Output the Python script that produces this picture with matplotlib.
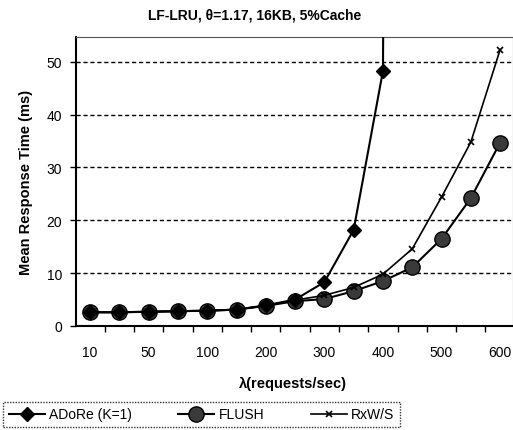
import numpy as np
import matplotlib
matplotlib.use("Agg")
import matplotlib.pyplot as plt
from matplotlib.ticker import FixedLocator

plt.rcParams['font.family'] = ['Liberation Sans', 'DejaVu Sans']

categories = [10, 25, 50, 75, 100, 150, 200, 250, 300, 350, 400, 450, 500, 550, 600]
tick_labels = ["10", "", "50", "", "100", "", "200", "", "300", "", "400", "", "500", "", "600"]
adore = [2.6, 2.6, 2.7, 2.8, 2.9, 3.1, 3.9, 5.0, 8.3, 18.2, 48.3, 1000, np.nan, np.nan, np.nan]
flush = [2.6, 2.6, 2.7, 2.8, 2.9, 3.1, 3.8, 4.7, 5.1, 6.6, 8.5, 11.1, 16.5, 24.2, 34.7]
rxws = [2.6, 2.6, 2.7, 2.8, 2.9, 3.1, 3.9, 4.9, 5.8, 7.3, 9.8, 14.6, 24.4, 34.8, 52.3]

fig = plt.figure(figsize=(5.13, 4.31), dpi=100)
ax = fig.add_axes([76/513, (431-327)/431, (513-76)/513, (327-38)/431])

x = np.arange(len(categories))
ax.plot(x, adore, color='black', lw=1.5, marker='D', ms=7, mfc='black', mec='black',
        label='ADoRe (K=1)', zorder=4)
ax.plot(x, flush, color='black', lw=1.5, marker='o', ms=11, mfc='#3a3a3a', mec='black',
        label='FLUSH', zorder=3)
ax.plot(x, rxws, color='black', lw=1.2, marker='x', ms=5, mew=1.2,
        label='RxW/S', zorder=5)

ax.set_xlim(-0.48, 14.44)
ax.set_ylim(0, 54.7)
ax.set_yticks([0, 10, 20, 30, 40, 50])
ax.yaxis.grid(True, linestyle=(0, (3, 2)), color='black', lw=1.0)
ax.set_axisbelow(True)

ax.xaxis.set_major_locator(FixedLocator(x))
ax.set_xticklabels(tick_labels)
ax.xaxis.set_minor_locator(FixedLocator(np.arange(-0.5, 15, 1.0)))
ax.tick_params(axis='x', which='major', length=0, pad=14, labelsize=10)
ax.tick_params(axis='x', which='minor', length=4, width=1, direction='out')
ax.tick_params(axis='y', length=4, width=1, labelsize=10, pad=6)

for s in ['top', 'right']:
    ax.spines[s].set_linestyle((0, (1, 1)))
    ax.spines[s].set_linewidth(0.8)
    ax.spines[s].set_color('#555555')
ax.spines['left'].set_linewidth(1.5)
ax.spines['bottom'].set_linewidth(1.5)

fig.text(255/513, 1 - 15/431, "LF-LRU, θ=1.17, 16KB, 5%Cache", ha='center', va='center',
         fontsize=10, fontweight='semibold')
ax.set_ylabel("Mean Response Time (ms)", fontsize=10.5, fontweight='bold', labelpad=10)
fig.text(293/513, 1 - 384/431, "λ(requests/sec)", ha='center', va='center',
         fontsize=10.5, fontweight='bold')

leg = fig.legend(loc='lower left', bbox_to_anchor=(3/513, 3/431, 397/513, 30/431),
                 mode='expand', ncol=3, frameon=True, fancybox=False, fontsize=10,
                 handlelength=2.6, handletextpad=0.3, columnspacing=1.2, borderpad=0.4,
                 borderaxespad=0)
leg.get_frame().set_edgecolor('black')
leg.get_frame().set_linestyle((0, (1, 1)))
leg.get_frame().set_linewidth(1.0)

fig.savefig("out.png", dpi=100)
